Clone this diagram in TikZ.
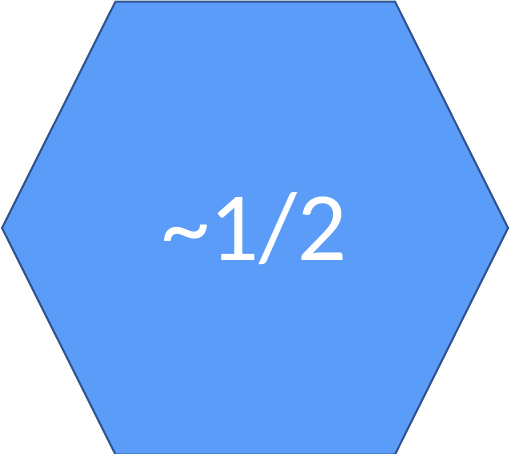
\documentclass[tikz,border=0pt]{standalone}
\usepackage{fontspec}
\setmainfont{Carlito}
\definecolor{hexfill}{HTML}{5B9CF8}
\definecolor{hexline}{HTML}{2F528F}
\begin{document}
\begin{tikzpicture}[x=1pt,y=-1pt,
  hexstyle/.style={fill=hexfill,draw=hexline,line width=2pt,line join=miter},
  labelstyle/.style={text=white,font=\fontsize{98}{98}\selectfont,inner sep=0pt}]
\useasboundingbox (0,0) rectangle (510,453);
\draw[hexstyle] (115.5,1.5) -- (395,1.5) -- (508,228) -- (395,454.5) -- (115.5,454.5) -- (2,228) -- cycle;
\node[labelstyle,anchor=base] (lbl) at (254,260) {\textasciitilde1/2};
\end{tikzpicture}
\end{document}
